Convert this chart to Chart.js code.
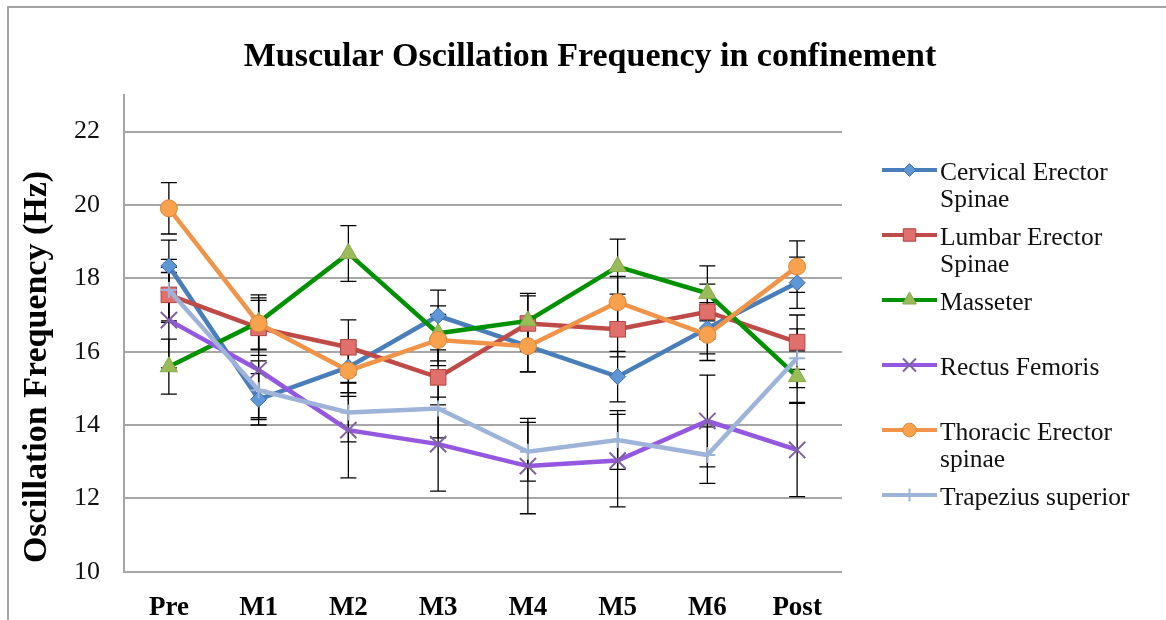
<!DOCTYPE html>
<html>
<head>
<meta charset="utf-8">
<title>Muscular Oscillation Frequency in confinement</title>
<script src="https://cdn.jsdelivr.net/npm/chart.js@4.4.1/dist/chart.umd.min.js"></script>
<style>
  html, body { margin: 0; padding: 0; background: #ffffff; }
  #wrap { position: relative; width: 1166px; height: 620px; }
</style>
</head>
<body>
<div id="wrap"><canvas id="chart"></canvas></div>
<script>
// Measurement points
const categories = ['Pre', 'M1', 'M2', 'M3', 'M4', 'M5', 'M6', 'Post'];

// Mean oscillation frequency (Hz) per muscle
const cervicalErectorSpinae = [18.34, 14.70, 15.58, 16.98, 16.15, 15.32, 16.64, 17.88];
const lumbarErectorSpinae   = [17.55, 16.65, 16.12, 15.30, 16.77, 16.61, 17.09, 16.26];
const masseter              = [15.59, 16.80, 18.68, 16.50, 16.84, 18.32, 17.59, 15.32];
const rectusFemoris         = [16.86, 15.50, 13.86, 13.48, 12.88, 13.03, 14.11, 13.32];
const thoracicErectorSpinae = [19.91, 16.77, 15.48, 16.32, 16.15, 17.35, 16.46, 18.32];
const trapeziusSuperior     = [17.68, 14.95, 14.34, 14.45, 13.27, 13.59, 13.18, 15.82];

// Error bar half-lengths (Hz)
const cervicalErr  = [0.70, 0.70, 0.70, 0.70, 0.70, 0.69, 0.70, 0.70];
const lumbarErr    = [0.75, 0.75, 0.75, 0.75, 0.75, 0.75, 0.75, 0.74];
const masseterErr  = [0.75, 0.75, 0.76, 0.75, 0.75, 0.75, 0.75, 0.70];
const rectusErr    = [1.30, 1.30, 1.30, 1.28, 1.30, 1.26, 1.25, 1.27];
const thoracicErr  = [0.70, 0.70, 0.70, 0.70, 0.70, 0.70, 0.70, 0.70];
const trapeziusErr = [0.84, 0.80, 0.80, 0.80, 0.80, 0.80, 0.77, 0.80];

// Series names
const seriesNames = [
  'Cervical Erector Spinae',
  'Lumbar Erector Spinae',
  'Masseter',
  'Rectus Femoris',
  'Thoracic Erector spinae',
  'Trapezius superior'
];

// Y axis tick values
const yTicks = [10, 12, 14, 16, 18, 20, 22];

const chartTitle = 'Muscular Oscillation Frequency in confinement';
const yAxisTitle = 'Oscillation Frequency (Hz)';

const SERIF = '"Liberation Serif", "Times New Roman", serif';

const seriesValues = [cervicalErectorSpinae, lumbarErectorSpinae, masseter, rectusFemoris, thoracicErectorSpinae, trapeziusSuperior];
const seriesErrors = [cervicalErr, lumbarErr, masseterErr, rectusErr, thoracicErr, trapeziusErr];

const styles = [
  { line: '#4A7EBB', fill: '#5F97D6', edge: '#3C6DA8', shape: 'rectRot',  r: 8, bw: 1 },
  { line: '#BE4B48', fill: '#E0706C', edge: '#B04542', shape: 'rect',     r: 11, bw: 1 },
  { line: '#009100', fill: '#9BBB59', edge: '#86A84A', shape: 'triangle', r: 10, bw: 1 },
  { line: '#9457E0', fill: '#7E62A1', edge: '#7E62A1', shape: 'crossRot', r: 11.5, bw: 2 },
  { line: '#F0944A', fill: '#F8A24E', edge: '#DD8636', shape: 'circle',   r: 8.5, bw: 1 },
  { line: '#9DB3D8', fill: '#9DB3D8', edge: '#9DB3D8', shape: 'cross',    r: 8, bw: 2 }
];

const datasets = seriesValues.map((vals, i) => ({
  label: seriesNames[i],
  data: vals,
  borderColor: styles[i].line,
  borderWidth: 4.5,
  backgroundColor: styles[i].fill,
  pointStyle: styles[i].shape,
  pointRadius: styles[i].r,
  pointBackgroundColor: styles[i].fill,
  pointBorderColor: styles[i].edge,
  pointBorderWidth: styles[i].bw,
  tension: 0,
  fill: false,
  order: seriesValues.length - i
}));

// Outer frame, title and rotated y-axis title
const decorations = {
  id: 'decorations',
  beforeDraw(chart) {
    const ctx = chart.ctx;
    ctx.save();
    ctx.fillStyle = '#ffffff';
    ctx.fillRect(0, 0, chart.width, chart.height);
    ctx.strokeStyle = '#a3a3a3';
    ctx.lineWidth = 2;
    ctx.strokeRect(8, 7, chart.width + 20, chart.height + 20);
    ctx.restore();
  },
  afterDraw(chart) {
    const ctx = chart.ctx;
    ctx.save();
    ctx.fillStyle = '#000000';
    ctx.textAlign = 'center';
    ctx.textBaseline = 'middle';
    ctx.font = 'bold 34px ' + SERIF;
    ctx.fillText(chartTitle, 590, 57);

    ctx.translate(37, 367);
    ctx.rotate(-Math.PI / 2);
    ctx.font = 'bold 34px ' + SERIF;
    ctx.fillText(yAxisTitle, 0, 0);
    ctx.restore();
  }
};

// Vertical error bars with caps, drawn beneath the series
const errorBars = {
  id: 'errorBars',
  beforeDatasetsDraw(chart) {
    const ctx = chart.ctx;
    const y = chart.scales.y;
    ctx.save();
    ctx.strokeStyle = '#000000';
    ctx.lineWidth = 1.3;
    seriesValues.forEach((vals, i) => {
      const meta = chart.getDatasetMeta(i);
      vals.forEach((v, j) => {
        const e = seriesErrors[i][j];
        const x = meta.data[j].x;
        const top = y.getPixelForValue(v + e);
        const bot = y.getPixelForValue(v - e);
        ctx.beginPath();
        ctx.moveTo(x, top); ctx.lineTo(x, bot);
        ctx.moveTo(x - 8, top); ctx.lineTo(x + 8, top);
        ctx.moveTo(x - 8, bot); ctx.lineTo(x + 8, bot);
        ctx.stroke();
      });
    });
    ctx.restore();
  }
};

// Legend on the right with wrapped labels
const sideLegend = {
  id: 'sideLegend',
  afterDraw(chart) {
    const ctx = chart.ctx;
    ctx.save();
    ctx.font = '25.5px ' + SERIF;
    ctx.textBaseline = 'middle';
    ctx.textAlign = 'left';
    const x0 = 882, x1 = 937, textX = 940, maxW = 210;
    seriesNames.forEach((name, i) => {
      const ly = 170 + 65 * i;
      const s = styles[i];
      ctx.strokeStyle = s.line;
      ctx.lineWidth = 4;
      ctx.beginPath();
      ctx.moveTo(x0, ly); ctx.lineTo(x1, ly);
      ctx.stroke();
      ctx.fillStyle = s.fill;
      ctx.strokeStyle = s.edge;
      ctx.lineWidth = s.bw;
      Chart.helpers.drawPoint(ctx, { pointStyle: s.shape, radius: s.r * 0.8, rotation: 0, borderWidth: s.bw }, (x0 + x1) / 2, ly);

      // word wrap
      const words = name.split(' ');
      const lines = [];
      let cur = '';
      words.forEach(w => {
        const test = cur ? cur + ' ' + w : w;
        if (ctx.measureText(test).width > maxW && cur) { lines.push(cur); cur = w; }
        else cur = test;
      });
      lines.push(cur);
      ctx.fillStyle = '#111111';
      lines.forEach((ln, k) => ctx.fillText(ln, textX, ly + 3 + k * 27.5));
    });
    ctx.restore();
  }
};

new Chart(document.getElementById('chart'), {
  type: 'line',
  data: { labels: categories, datasets },
  plugins: [decorations, errorBars, sideLegend],
  options: {
    responsive: true,
    maintainAspectRatio: false,
    animation: false,
    layout: { padding: { top: 95, right: 324, left: 0, bottom: 0 } },
    plugins: {
      legend: { display: false },
      tooltip: { enabled: false },
      title: { display: false }
    },
    scales: {
      x: {
        type: 'category',
        offset: true,
        grid: { display: false, drawTicks: false },
        border: { display: false },
        ticks: {
          color: '#000000',
          font: { family: SERIF, size: 27, weight: 'bold' },
          padding: 20,
          maxRotation: 0
        },
        afterFit(scale) { scale.height = 48.3; }
      },
      y: {
        min: 10,
        max: 23,
        afterBuildTicks(axis) { axis.ticks = yTicks.map(v => ({ value: v })); },
        grid: { color: '#a6a6a6', lineWidth: 2, drawTicks: false, tickLength: 0 },
        border: { display: true, color: '#a6a6a6', width: 2 },
        ticks: {
          color: '#111111',
          font: { family: SERIF, size: 26 },
          padding: 24
        },
        afterFit(scale) { scale.width = 124; }
      }
    }
  }
});
</script>
</body>
</html>
